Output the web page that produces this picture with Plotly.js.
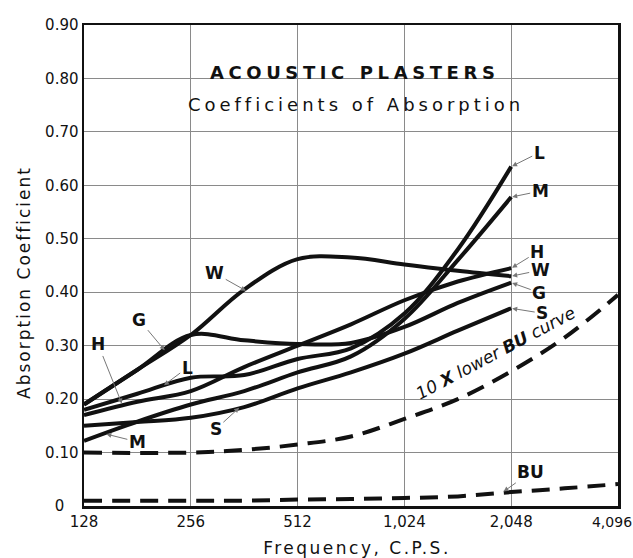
<!DOCTYPE html>
<html>
<head>
<meta charset="utf-8">
<script src="https://cdn.plot.ly/plotly-3.0.1.min.js"></script>
<style>
  html, body { margin: 0; padding: 0; background: #ffffff; }
  #chart { width: 633px; height: 558px; }
</style>
</head>
<body>
<div id="chart"></div>
<script>
// Frequencies (c.p.s.) at which the plaster curves were read
const freq = [128, 181, 256, 362, 512, 724, 1024, 1448, 2048];

// Absorption coefficients of the acoustic plasters
const plasterW = [0.19, 0.255, 0.32, 0.405, 0.462, 0.465, 0.452, 0.44, 0.43];
const plasterG = [0.19, 0.255, 0.32, 0.31, 0.303, 0.305, 0.335, 0.38, 0.418];
const plasterH = [0.17, 0.195, 0.215, 0.26, 0.30, 0.34, 0.385, 0.42, 0.445];
const plasterL = [0.18, 0.21, 0.24, 0.245, 0.275, 0.295, 0.36, 0.48, 0.635];
const plasterM = [0.122, 0.158, 0.19, 0.215, 0.25, 0.28, 0.35, 0.46, 0.578];
const plasterS = [0.15, 0.157, 0.165, 0.185, 0.22, 0.25, 0.285, 0.328, 0.37];

// BU curve (dashed) and the same curve drawn 10 X lower scale
const buFreq = [128, 256, 362, 512, 724, 1024, 1448, 2048, 2896, 4096];
const buTenX = [0.10, 0.10, 0.105, 0.115, 0.13, 0.163, 0.2, 0.252, 0.315, 0.395];
const buCurve = [0.01, 0.01, 0.01, 0.012, 0.013, 0.015, 0.018, 0.026, 0.033, 0.041];

// Tick labels
const xTickVals = [128, 256, 512, 1024, 2048, 4096];
const xTickText = ['128', '256', '512', '1,024', '2,048', '4,096'];
const yTickVals = [0, 0.1, 0.2, 0.3, 0.4, 0.5, 0.6, 0.7, 0.8, 0.9];
const yTickText = ['0\u00a0\u00a0\u00a0', '0.10', '0.20', '0.30', '0.40', '0.50', '0.60', '0.70', '0.80', '0.90'];

const solid = {color: '#111111', width: 4, shape: 'spline', smoothing: 1};
function plaster(name, vals) {
  return {x: freq, y: vals, name: name, type: 'scatter', mode: 'lines', line: solid, hoverinfo: 'x+y+name'};
}
const traces = [
  plaster('W', plasterW),
  plaster('G', plasterG),
  plaster('H', plasterH),
  plaster('L', plasterL),
  plaster('M', plasterM),
  plaster('S', plasterS),
  {x: buFreq, y: buTenX, name: '10 X lower BU curve', type: 'scatter', mode: 'lines',
   line: {color: '#111111', width: 4, dash: '18px,10px', shape: 'spline', smoothing: 1}},
  {x: buFreq, y: buCurve, name: 'BU', type: 'scatter', mode: 'lines',
   line: {color: '#111111', width: 4, dash: '18px,10px', shape: 'spline', smoothing: 1}}
];

const lg = v => Math.log10(v);
const labelFont = {family: 'DejaVu Sans', size: 17, color: '#111111'};
function tag(text, f, v, ax, ay) {
  return {x: lg(f), y: v, xref: 'x', yref: 'y', text: '<b>' + text + '</b>',
          showarrow: true, ax: ax, ay: ay, arrowcolor: '#777777', arrowwidth: 1,
          arrowhead: 2, arrowsize: 1, standoff: 1, font: labelFont};
}
const last = freq.length - 1;
const annotations = [
  {x: 0.507, y: 0.902, xref: 'paper', yref: 'paper', xanchor: 'center', yanchor: 'middle', showarrow: false,
   text: '<b>ACOUSTIC PLASTERS</b>', font: {family: 'DejaVu Sans', size: 18, color: '#111111'}},
  {x: 0.51, y: 0.834, xref: 'paper', yref: 'paper', xanchor: 'center', yanchor: 'middle', showarrow: false,
   text: 'Coefficients of Absorption', font: {family: 'DejaVu Sans', size: 18, color: '#111111'}},
  tag('W', 368, 0.402, -32, -18),
  tag('G', 217, 0.29, -26, -31),
  tag('H', 164, 0.19, -24, -60),
  tag('L', 214, 0.225, 24, -18),
  tag('M', 147, 0.135, 32, 8),
  tag('S', 352, 0.185, -24, 22),
  tag('L', 2048, plasterL[last], 28, -14),
  tag('M', 2048, plasterM[last], 29, -6),
  tag('H', 2048, plasterH[last], 26, -16),
  tag('W', 2048, plasterW[last], 29, -6),
  tag('G', 2048, plasterG[last], 28, 10),
  tag('S', 2048, plasterS[last], 31, 5),
  tag('BU', 1940, 0.026, 28, -20),
  {x: lg(1850), y: 0.286, xref: 'x', yref: 'y', showarrow: false, textangle: -28,
   text: '<i>10 <b>X</b> lower <b>BU</b> curve</i>',
   font: {family: 'DejaVu Sans', size: 17, color: '#111111'}}
];

const layout = {
  width: 633, height: 558,
  margin: {l: 84, r: 15, t: 25, b: 52},
  paper_bgcolor: '#ffffff', plot_bgcolor: '#ffffff',
  showlegend: false,
  font: {family: 'DejaVu Sans', size: 15, color: '#111111'},
  xaxis: {
    type: 'log', range: [lg(128), lg(4096)],
    tickvals: xTickVals, ticktext: xTickText,
    ticklabeloverflow: 'allow',
    showgrid: true, gridcolor: '#8a8a8a', gridwidth: 1,
    showline: true, linecolor: '#111111', linewidth: 2.5, mirror: true,
    ticks: '', zeroline: false,
    tickfont: {family: 'DejaVu Sans', size: 15, color: '#111111'},
    title: {text: 'Frequency, C.P.S.', font: {family: 'DejaVu Sans', size: 17, color: '#111111'}, standoff: 6}
  },
  yaxis: {
    range: [0, 0.9],
    tickvals: yTickVals, ticktext: yTickText,
    showgrid: true, gridcolor: '#8a8a8a', gridwidth: 1,
    showline: true, linecolor: '#111111', linewidth: 2.5, mirror: true,
    ticks: '', zeroline: false,
    tickfont: {family: 'DejaVu Sans', size: 15, color: '#111111'},
    title: {text: 'Absorption Coefficient', font: {family: 'DejaVu Sans', size: 17, color: '#111111'}}
  },
  shapes: [
    {type: 'rect', xref: 'paper', yref: 'y', x0: 0.2, x1: 0.793, y0: 0.715, y1: 0.80,
     fillcolor: '#ffffff', line: {width: 0}, layer: 'between'},
    {type: 'rect', xref: 'paper', yref: 'y', x0: 0.206, x1: 0.793, y0: 0.795, y1: 0.86,
     fillcolor: '#ffffff', line: {width: 0}, layer: 'between'}
  ],
  annotations: annotations
};

Plotly.newPlot('chart', traces, layout, {displayModeBar: false, staticPlot: true}).then(function () {
  document.querySelectorAll('.annotation-text').forEach(function (t) {
    const s = t.textContent;
    if (s === 'ACOUSTIC PLASTERS') t.style.letterSpacing = '4.6px';
    else if (s === 'Coefficients of Absorption') t.style.letterSpacing = '4px';
  });
  document.querySelectorAll('.xtick text').forEach(function (t) {
    if (t.textContent === '4,096') {
      t.style.fontSize = '14px';
      t.setAttribute('transform', 'translate(-6,0) ' + (t.getAttribute('transform') || ''));
    }
  });
  document.querySelectorAll('.g-xtitle text').forEach(function (t) {
    t.style.letterSpacing = '2.5px';
    t.setAttribute('transform', 'translate(6,7) ' + (t.getAttribute('transform') || ''));
  });
  document.querySelectorAll('.g-ytitle text').forEach(function (t) {
    t.style.letterSpacing = '2px';
    t.setAttribute('transform', 'translate(-9,17) ' + (t.getAttribute('transform') || ''));
  });
});
</script>
</body>
</html>
